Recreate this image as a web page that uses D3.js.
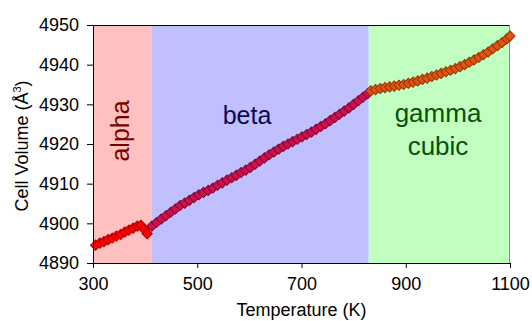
<!DOCTYPE html>
<html>
<head>
<meta charset="utf-8">
<script src="https://cdn.jsdelivr.net/npm/d3@7"></script>
<style>
  html, body { margin: 0; padding: 0; background: #fff; }
  svg { display: block; font-family: "Liberation Sans", Arial, sans-serif; }
</style>
</head>
<body>
<svg id="chart" width="532" height="321"></svg>
<script>
// Temperature (K) and refined cell volume (Å^3) per phase
const alphaT = [305, 313, 321, 329, 337, 345, 353, 361, 369, 377, 385, 392, 398, 404];
const alphaV = [4894.5, 4895.0, 4895.4, 4895.9, 4896.3, 4896.8, 4897.2, 4897.8, 4898.3, 4898.8, 4899.3, 4899.5, 4898.5, 4897.4];

const betaT = [413, 422, 431, 440, 449, 458, 467, 476, 485, 494, 503, 512, 521, 530, 539, 548,
               557, 566, 575, 584, 593, 602, 611, 620, 629, 638, 647, 656, 665, 674, 683, 692,
               701, 710, 719, 728, 737, 746, 755, 764, 773, 782, 791, 800, 809, 818, 827];
const betaV = [4899.3, 4900.2, 4901.1, 4901.9, 4902.8, 4903.6, 4904.5, 4905.1, 4905.8, 4906.5,
               4907.2, 4907.8, 4908.3, 4908.9, 4909.6, 4910.2, 4910.9, 4911.5, 4912.1, 4912.8,
               4913.4, 4914.1, 4914.9, 4915.7, 4916.5, 4917.3, 4918.0, 4918.7, 4919.4, 4920.0,
               4920.6, 4921.2, 4921.8, 4922.4, 4923.0, 4923.7, 4924.4, 4925.1, 4925.9, 4926.7,
               4927.5, 4928.3, 4929.1, 4930.0, 4930.9, 4931.8, 4932.7];

const gammaT = [833, 842, 851, 860, 869, 878, 887, 896, 905, 914, 923, 932, 941, 950, 959, 968,
                977, 986, 995, 1004, 1013, 1022, 1031, 1040, 1049, 1058, 1067, 1076, 1085, 1094, 1100];
const gammaV = [4933.4, 4933.7, 4934.0, 4934.2, 4934.4, 4934.6, 4934.8, 4935.0, 4935.3, 4935.6,
                4935.9, 4936.3, 4936.6, 4937.0, 4937.4, 4937.8, 4938.2, 4938.6, 4939.0, 4939.5,
                4940.0, 4940.6, 4941.2, 4941.8, 4942.5, 4943.2, 4944.0, 4944.8, 4945.6, 4946.5, 4947.2];

// Phase regions: temperature bounds
const phaseNames = ["alpha", "beta", "gamma"];
const phaseStart = [300, 413, 829];
const phaseEnd   = [413, 829, 1100];

const xTicks = [300, 500, 700, 900, 1100];
const yTicks = [4890, 4900, 4910, 4920, 4930, 4940, 4950];

const style = {
  alpha: { band: "#ffc0c0", fill: "#ff0000", stroke: "#b00000", text: "#7a0000" },
  beta:  { band: "#c0c0ff", fill: "#d0104a", stroke: "#80083a", text: "#0a0a50" },
  gamma: { band: "#c0ffc0", fill: "#dd5510", stroke: "#983406", text: "#0a500a" }
};

const svg = d3.select("#chart");
const plotL = 93, plotR = 510, plotT = 25, plotB = 263;

const x = d3.scaleLinear().domain([300, 1100]).range([plotL, plotR]);
const y = d3.scaleLinear().domain([4890, 4950]).range([plotB, plotT]);

// background bands for each phase
svg.append("g").selectAll("rect")
  .data(phaseNames.map((n, i) => ({ name: n, t0: phaseStart[i], t1: phaseEnd[i] })))
  .join("rect")
  .attr("x", d => x(d.t0))
  .attr("y", plotT)
  .attr("width", d => x(d.t1) - x(d.t0))
  .attr("height", plotB - plotT)
  .attr("fill", d => style[d.name].band);

// frame on top and right
svg.append("line").attr("x1", plotL).attr("x2", plotR).attr("y1", plotT + 0.5).attr("y2", plotT + 0.5)
  .attr("stroke", "#000").attr("stroke-width", 1);
svg.append("line").attr("x1", plotR - 0.5).attr("x2", plotR - 0.5).attr("y1", plotT).attr("y2", plotB)
  .attr("stroke", "#7f9a7f").attr("stroke-width", 1);

// phase labels
const fontLbl = 25;
svg.append("text")
  .attr("transform", `translate(120,131) rotate(-90)`)
  .attr("text-anchor", "middle").attr("dominant-baseline", "central")
  .attr("font-size", fontLbl).attr("fill", style.alpha.text).text("alpha");
svg.append("text")
  .attr("x", 247).attr("y", 124).attr("text-anchor", "middle")
  .attr("font-size", fontLbl).attr("fill", style.beta.text).text("beta");
svg.append("text")
  .attr("x", 438).attr("y", 122).attr("text-anchor", "middle")
  .attr("font-size", fontLbl + 1).attr("fill", style.gamma.text).text("gamma");
svg.append("text")
  .attr("x", 438).attr("y", 155).attr("text-anchor", "middle")
  .attr("font-size", fontLbl + 1).attr("fill", style.gamma.text).text("cubic");

// markers: square rotated 45 degrees (diamond)
const diamond = d3.symbol().type(d3.symbolSquare).size(52);
function drawSeries(ts, vs, st) {
  svg.append("g").selectAll("path")
    .data(ts.map((t, i) => ({ t, v: vs[i] })))
    .join("path")
    .attr("d", diamond)
    .attr("transform", d => `translate(${x(d.t)},${y(d.v)}) rotate(45)`)
    .attr("fill", st.fill)
    .attr("stroke", st.stroke)
    .attr("stroke-width", 1);
}
drawSeries(alphaT, alphaV, style.alpha);
drawSeries(betaT, betaV, style.beta);
drawSeries(gammaT, gammaV, style.gamma);

// axes
const yAxis = svg.append("g")
  .attr("transform", `translate(${plotL},0)`)
  .call(d3.axisLeft(y).tickValues(yTicks).tickSize(6).tickPadding(8).tickFormat(d3.format("d")));
const xAxis = svg.append("g")
  .attr("transform", `translate(0,${plotB})`)
  .call(d3.axisBottom(x).tickValues(xTicks).tickSize(5).tickPadding(9).tickFormat(d3.format("d")));

[yAxis, xAxis].forEach(g => {
  g.select(".domain").attr("stroke", "#000");
  g.selectAll(".tick line").attr("stroke", "#000");
  g.selectAll(".tick text").attr("font-size", 18).attr("fill", "#000")
    .attr("font-family", "'Liberation Sans', Arial, sans-serif");
});

// axis titles
svg.append("text")
  .attr("x", (plotL + plotR) / 2).attr("y", 316)
  .attr("text-anchor", "middle").attr("font-size", 18).attr("fill", "#000")
  .text("Temperature (K)");

const yTitle = svg.append("text")
  .attr("transform", `translate(28,146) rotate(-90)`)
  .attr("text-anchor", "middle").attr("font-size", 18).attr("fill", "#000");
yTitle.append("tspan").text("Cell Volume (Å");
yTitle.append("tspan").attr("font-size", 11).attr("dy", -7).text("3");
yTitle.append("tspan").attr("dy", 7).text(")");
</script>
</body>
</html>
